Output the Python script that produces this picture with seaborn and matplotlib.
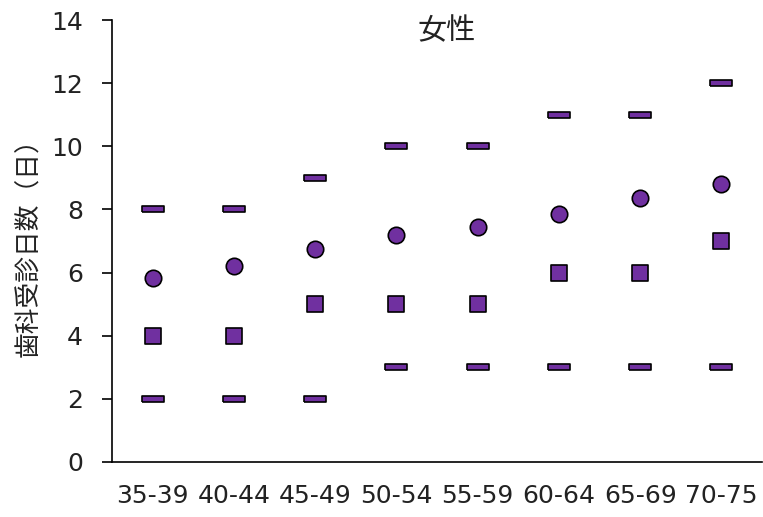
import numpy as np
import pandas as pd
import matplotlib
matplotlib.use("Agg")
import matplotlib.pyplot as plt
import seaborn as sns

# age groups (female)
age_groups = ["35-39", "40-44", "45-49", "50-54", "55-59", "60-64", "65-69", "70-75"]
mean_days = [5.83, 6.2, 6.75, 7.2, 7.45, 7.85, 8.35, 8.8]
median_days = [4, 4, 5, 5, 5, 6, 6, 7]
upper_days = [8, 8, 9, 10, 10, 11, 11, 12]
lower_days = [2, 2, 2, 3, 3, 3, 3, 3]

sns.set_theme(style="white")
plt.rcParams['font.family'] = ['DejaVu Sans', 'Noto Sans CJK JP']

purple = "#7030A0"
dash = [(-4.5, -1.1), (4.5, -1.1), (4.5, 1.1), (-4.5, 1.1), (-4.5, -1.1)]

df = pd.DataFrame({
    "age": age_groups,
    "x": np.arange(len(age_groups)),
    "mean": mean_days,
    "median": median_days,
    "upper": upper_days,
    "lower": lower_days,
})

fig = plt.figure(figsize=(7.63, 5.17), dpi=100)
ax = fig.add_axes([0.1468, 0.1064, 0.852, 0.8549])

kw = dict(color=purple, edgecolor="black", linewidth=1.2, ax=ax, legend=False, zorder=3)
sns.scatterplot(data=df, x="x", y="upper", marker=dash, s=260, **kw)
sns.scatterplot(data=df, x="x", y="lower", marker=dash, s=260, **kw)
sns.scatterplot(data=df, x="x", y="median", marker="s", s=120, **kw)
sns.scatterplot(data=df, x="x", y="mean", marker="o", s=140, **kw)

ax.set_xlim(-0.5, len(age_groups) - 0.5)
ax.set_ylim(0, 14)
ax.set_yticks(range(0, 15, 2))
ax.set_xticks(np.arange(-0.5, len(age_groups), 1.0))
ax.set_xticklabels([])
ax.set_xticks(np.arange(len(age_groups)), minor=True)
ax.set_xticklabels(age_groups, minor=True)
ax.tick_params(axis="x", which="major", direction="out", length=7, width=1.2, color="black")
ax.tick_params(axis="x", which="minor", length=0, pad=16, labelsize=18, labelcolor="#222222")
ax.tick_params(axis="y", direction="out", length=7, width=1.2, color="black", pad=14,
               labelsize=18, labelcolor="#222222", left=True)

for side in ["top", "right"]:
    ax.spines[side].set_visible(False)
for side in ["left", "bottom"]:
    ax.spines[side].set_color("black")
    ax.spines[side].set_linewidth(1.2)

ax.set_xlabel("")
ax.set_ylabel("歯科受診日数（日）", fontsize=18.5, color="#222222",
              family=['Noto Sans CJK JP', 'DejaVu Sans'], labelpad=6)
fig.text(0.586, 0.94, "女性", ha="center", va="center", fontsize=21, color="#222222",
         family=['Noto Sans CJK JP', 'DejaVu Sans'])

fig.savefig("out.png", dpi=100)
